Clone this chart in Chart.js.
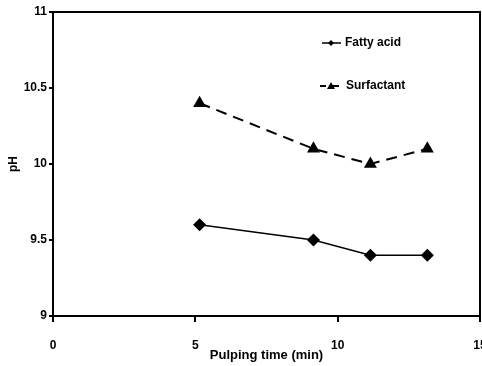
<!DOCTYPE html>
<html>
<head>
<meta charset="utf-8">
<script src="https://cdn.jsdelivr.net/npm/chart.js@4"></script>
<style>
  html, body { margin: 0; padding: 0; background: #fff; }
  #wrap { width: 482px; height: 366px; }
</style>
</head>
<body>
<div id="wrap"><canvas id="line-chart"></canvas></div>
<script>
const times = [5.15, 9.15, 11.15, 13.15];
const fattyAcid = [9.6, 9.5, 9.4, 9.4];
const surfactant = [10.4, 10.1, 10.0, 10.1];
const seriesNames = ["Fatty acid", "Surfactant"];

const font = { family: "Liberation Sans, Arial, sans-serif", size: 12, weight: "bold" };
const titleFont = { family: "Liberation Sans, Arial, sans-serif", size: 13, weight: "bold" };

// frame round the plot area and the little legend in the top right corner
const framePlugin = {
    id: "frame",
    afterDraw(chart) {
        const { ctx, chartArea: a } = chart;
        ctx.save();
        ctx.strokeStyle = "#000";
        ctx.lineWidth = 2;
        ctx.strokeRect(a.left, a.top, a.right - a.left, a.bottom - a.top);

        ctx.font = "bold 12px Liberation Sans, Arial, sans-serif";
        ctx.fillStyle = "#000";
        ctx.textBaseline = "middle";

        // Fatty acid
        ctx.lineWidth = 1.5;
        ctx.setLineDash([]);
        ctx.beginPath();
        ctx.moveTo(322, 43);
        ctx.lineTo(341, 43);
        ctx.stroke();
        ctx.beginPath();
        ctx.moveTo(331, 40); ctx.lineTo(334, 43); ctx.lineTo(331, 46); ctx.lineTo(328, 43);
        ctx.closePath();
        ctx.fill();
        ctx.fillText(seriesNames[0], 345, 43);

        // Surfactant
        ctx.lineWidth = 2;
        ctx.beginPath();
        ctx.moveTo(320, 86); ctx.lineTo(326, 86);
        ctx.moveTo(331, 86); ctx.lineTo(339, 86);
        ctx.stroke();
        ctx.beginPath();
        ctx.moveTo(331, 82); ctx.lineTo(335, 89); ctx.lineTo(327, 89);
        ctx.closePath();
        ctx.fill();
        ctx.fillText(seriesNames[1], 346, 86);
        ctx.restore();
    },
};

new Chart(document.getElementById("line-chart"), {
    type: "scatter",
    data: {
        datasets: [
            {
                label: seriesNames[0],
                data: times.map((t, i) => ({ x: t, y: fattyAcid[i] })),
                showLine: true,
                borderColor: "#000",
                backgroundColor: "#000",
                borderWidth: 1.5,
                pointStyle: "rectRot",
                pointRadius: 5.5,
                pointHoverRadius: 5.5,
            },
            {
                label: seriesNames[1],
                data: times.map((t, i) => ({ x: t, y: surfactant[i] })),
                showLine: true,
                borderColor: "#000",
                backgroundColor: "#000",
                borderWidth: 2,
                borderDash: [11, 7],
                pointStyle: "triangle",
                pointRadius: 5.5,
                pointHoverRadius: 5.5,
            },
        ],
    },
    options: {
        responsive: true,
        maintainAspectRatio: false,
        animation: false,
        layout: { autoPadding: false, padding: { top: 12, right: 2, left: 0, bottom: 0 } },
        plugins: {
            legend: { display: false },
            tooltip: { enabled: false },
        },
        scales: {
            x: {
                type: "linear",
                min: 0,
                max: 15,
                ticks: { stepSize: 5, color: "#000", font: font, padding: 16 },
                grid: { drawOnChartArea: false, color: "#000", tickLength: 6, lineWidth: 2 },
                border: { color: "#000", width: 2 },
                title: { display: true, text: "Pulping time (min)", color: "#000", font: titleFont, padding: { top: 0, bottom: 3 } },
                afterFit(scale) {
                    scale.height = 50;
                    scale.paddingLeft = 0;
                    scale.paddingRight = 0;
                },
            },
            y: {
                min: 9,
                max: 11,
                ticks: {
                    stepSize: 0.5,
                    color: "#000",
                    font: font,
                    padding: 2,
                    callback: (v) => String(v),
                },
                grid: { drawOnChartArea: false, color: "#000", tickLength: 4, lineWidth: 2 },
                border: { color: "#000", width: 2 },
                title: { display: true, text: "pH", color: "#000", font: font, padding: { top: 6, bottom: 6 } },
                afterFit(scale) {
                    scale.width = 53;
                    scale.paddingTop = 0;
                    scale.paddingBottom = 0;
                },
            },
        },
    },
    plugins: [framePlugin],
});
</script>
</body>
</html>
